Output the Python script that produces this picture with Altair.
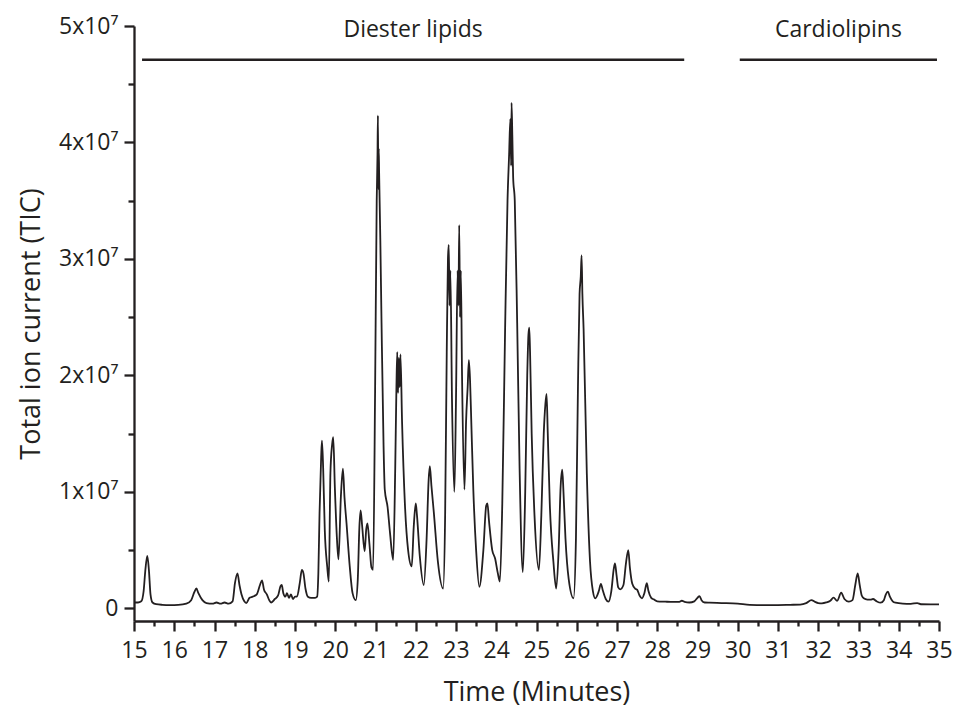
import altair as alt
import pandas as pd

# Retention time (minutes) of each sampled point of the chromatogram
time_min = [
    15.00, 15.10, 15.18, 15.24, 15.28, 15.33, 15.37, 15.41, 15.46, 15.55,
    15.70, 15.90, 16.10, 16.30, 16.42, 16.50, 16.55, 16.60, 16.70, 16.80,
    16.95, 17.05, 17.15, 17.25, 17.35, 17.45, 17.51, 17.57, 17.62, 17.67,
    17.74, 17.79, 17.87, 17.95, 18.05, 18.13, 18.18, 18.23, 18.30, 18.36,
    18.41, 18.50, 18.58, 18.64, 18.67, 18.71, 18.76, 18.80, 18.85, 18.90,
    18.95, 19.00, 19.05, 19.12, 19.17, 19.21, 19.26, 19.32, 19.40, 19.50,
    19.55, 19.58, 19.61, 19.65, 19.67, 19.70, 19.74, 19.80, 19.84, 19.88,
    19.92, 19.95, 19.99, 20.04, 20.08, 20.14, 20.19, 20.23, 20.28, 20.36,
    20.43, 20.51, 20.56, 20.60, 20.63, 20.67, 20.73, 20.77, 20.80, 20.85,
    20.90, 20.94, 20.99, 21.03, 21.05, 21.06, 21.07, 21.08, 21.09, 21.12,
    21.15, 21.20, 21.23, 21.30, 21.36, 21.44, 21.49, 21.52, 21.54, 21.56,
    21.58, 21.60, 21.62, 21.66, 21.73, 21.81, 21.90, 21.95, 22.00, 22.03,
    22.10, 22.20, 22.27, 22.32, 22.35, 22.39, 22.45, 22.55, 22.68, 22.73,
    22.77, 22.80, 22.82, 22.84, 22.86, 22.90, 22.96, 23.00, 23.04, 23.06,
    23.08, 23.10, 23.12, 23.15, 23.21, 23.25, 23.29, 23.32, 23.35, 23.38,
    23.43, 23.50, 23.58, 23.68, 23.75, 23.78, 23.82, 23.90, 23.97, 24.04,
    24.09, 24.15, 24.22, 24.28, 24.32, 24.35, 24.37, 24.38, 24.40, 24.42,
    24.46, 24.52, 24.58, 24.66, 24.72, 24.77, 24.80, 24.82, 24.84, 24.88,
    24.95, 25.06, 25.12, 25.18, 25.22, 25.25, 25.28, 25.33, 25.42, 25.49,
    25.55, 25.60, 25.64, 25.67, 25.72, 25.80, 25.92, 25.98, 26.03, 26.07,
    26.10, 26.12, 26.14, 26.17, 26.25, 26.33, 26.40, 26.46, 26.55, 26.60,
    26.65, 26.72, 26.79, 26.86, 26.92, 26.95, 26.99, 27.03, 27.08, 27.16,
    27.22, 27.28, 27.32, 27.38, 27.45, 27.50, 27.56, 27.62, 27.68, 27.74,
    27.78, 27.85, 27.91, 28.00, 28.20, 28.40, 28.55, 28.61, 28.68, 28.80,
    28.92, 29.00, 29.05, 29.10, 29.18, 29.30, 29.60, 30.00, 30.30, 30.70,
    31.00, 31.30, 31.55, 31.70, 31.83, 31.92, 32.00, 32.09, 32.20, 32.30,
    32.38, 32.47, 32.57, 32.65, 32.76, 32.85, 32.92, 32.98, 33.03, 33.08,
    33.13, 33.22, 33.30, 33.36, 33.45, 33.55, 33.63, 33.68, 33.73, 33.78,
    33.85, 33.92, 34.10, 34.30, 34.46, 34.55, 34.80, 35.00,
]

# Total ion current at each time point, in units of 10^7 counts
tic_e7 = [
    0.050, 0.050, 0.060, 0.150, 0.320, 0.450, 0.330, 0.120, 0.050, 0.035,
    0.030, 0.028, 0.030, 0.040, 0.070, 0.140, 0.170, 0.130, 0.070, 0.045,
    0.040, 0.050, 0.040, 0.050, 0.040, 0.060, 0.220, 0.300, 0.200, 0.120,
    0.060, 0.045, 0.090, 0.100, 0.120, 0.200, 0.240, 0.160, 0.120, 0.070,
    0.050, 0.080, 0.110, 0.190, 0.200, 0.130, 0.100, 0.130, 0.090, 0.120,
    0.080, 0.100, 0.100, 0.220, 0.330, 0.300, 0.170, 0.100, 0.090, 0.090,
    0.100, 0.300, 0.820, 1.300, 1.440, 1.200, 0.670, 0.360, 0.230, 1.160,
    1.400, 1.470, 1.040, 0.610, 0.420, 0.960, 1.200, 0.950, 0.730, 0.360,
    0.130, 0.070, 0.250, 0.700, 0.840, 0.700, 0.490, 0.680, 0.730, 0.550,
    0.350, 0.330, 1.870, 3.500, 3.900, 4.230, 3.600, 3.950, 3.740, 3.160,
    2.450, 1.400, 1.020, 0.870, 0.650, 0.415, 1.200, 1.900, 2.200, 1.850,
    2.150, 1.900, 2.180, 1.600, 0.900, 0.500, 0.360, 0.700, 0.900, 0.800,
    0.450, 0.200, 0.600, 1.100, 1.220, 1.050, 0.820, 0.400, 0.170, 0.800,
    2.200, 3.000, 3.120, 2.600, 2.900, 1.800, 1.000, 1.800, 2.900, 2.600,
    3.290, 2.500, 2.900, 2.000, 1.020, 1.600, 1.900, 2.130, 1.950, 1.600,
    1.020, 0.500, 0.185, 0.500, 0.880, 0.900, 0.750, 0.500, 0.430, 0.300,
    0.230, 0.900, 2.400, 3.500, 3.900, 4.200, 3.800, 4.340, 4.050, 3.700,
    3.500, 2.450, 1.200, 0.310, 1.000, 2.000, 2.350, 2.410, 2.200, 1.500,
    0.800, 0.330, 0.800, 1.500, 1.750, 1.840, 1.500, 0.900, 0.400, 0.170,
    0.500, 1.050, 1.190, 1.000, 0.600, 0.250, 0.086, 0.600, 1.900, 2.700,
    2.850, 3.030, 2.700, 2.400, 1.160, 0.400, 0.150, 0.086, 0.150, 0.210,
    0.150, 0.080, 0.057, 0.150, 0.340, 0.386, 0.280, 0.180, 0.163, 0.200,
    0.380, 0.500, 0.350, 0.210, 0.170, 0.160, 0.110, 0.086, 0.130, 0.215,
    0.150, 0.090, 0.077, 0.060, 0.057, 0.055, 0.055, 0.065, 0.055, 0.050,
    0.060, 0.090, 0.105, 0.070, 0.050, 0.048, 0.045, 0.040, 0.030, 0.028,
    0.028, 0.030, 0.032, 0.045, 0.071, 0.055, 0.045, 0.043, 0.050, 0.065,
    0.091, 0.065, 0.134, 0.080, 0.057, 0.070, 0.200, 0.300, 0.200, 0.110,
    0.086, 0.075, 0.075, 0.080, 0.060, 0.048, 0.070, 0.120, 0.143, 0.100,
    0.060, 0.048, 0.040, 0.038, 0.045, 0.035, 0.034, 0.034,
]

# Elution windows of the lipid classes
region_names = ["Diester lipids", "Cardiolipins"]
region_start = [15.2, 30.05]
region_end = [28.67, 34.95]

# Axis ticks: whole minutes labelled, half minutes as minor ticks
x_ticks = [15 + 0.5 * i for i in range(41)]
y_ticks = [0, 0.5e7, 1e7, 1.5e7, 2e7, 2.5e7, 3e7, 3.5e7, 4e7, 4.5e7, 5e7]

INK = "#231f20"
FONT = "Open Sans, Noto Sans, DejaVu Sans"

df = pd.DataFrame({"time": time_min, "tic": [v * 1e7 for v in tic_e7]})
regions = pd.DataFrame({"name": region_names, "start": region_start, "end": region_end})

x_scale = alt.Scale(domain=[15, 35], nice=False, zero=False)
y_scale = alt.Scale(domain=[-1.09e6, 5e7], nice=False, zero=False)

x_axis = alt.Axis(
    values=x_ticks,
    labelExpr="datum.value % 1 === 0 ? '' + datum.value : ''",
    tickSize={"condition": {"test": "datum.value % 1 !== 0", "value": 5}, "value": 10},
    title="Time (Minutes)",
    titleX=402.5,
    titleY=79,
    titleBaseline="alphabetic",
    labelPadding=8,
    labelFlush=False,
    labelOverlap=False,
    grid=False,
)

y_axis = alt.Axis(
    values=y_ticks,
    labelExpr="datum.value === 0 ? '0' : (datum.value % 1e7 === 0 ? (datum.value / 1e7) + 'x10\u2077' : '')",
    tickSize={"condition": {"test": "datum.value % 1e7 !== 0", "value": 6}, "value": 10},
    title="Total ion current (TIC)",
    titleX=-95,
    titleY=297.5,
    titleAngle=-90,
    titleBaseline="alphabetic",
    labelPadding=6,
    labelFlush=False,
    labelOverlap=False,
    grid=False,
)

trace = alt.Chart(df).mark_line(
    color=INK, strokeWidth=1.8, interpolate="monotone"
).encode(
    x=alt.X("time:Q", scale=x_scale, axis=x_axis),
    y=alt.Y("tic:Q", scale=y_scale, axis=y_axis),
)

bars = alt.Chart(regions).mark_rule(color=INK, strokeWidth=2.5).encode(
    x=alt.X("start:Q", scale=x_scale, axis=x_axis),
    x2="end:Q",
    y=alt.Y(datum=4.71e7, scale=y_scale, axis=y_axis),
)

labels = alt.Chart(regions).transform_calculate(
    mid="(datum.start + datum.end) / 2"
).mark_text(
    font=FONT, fontSize=23, color=INK, align="center", baseline="alphabetic"
).encode(
    x=alt.X("mid:Q", scale=x_scale, axis=x_axis),
    y=alt.Y(datum=4.906e7, scale=y_scale, axis=y_axis),
    text="name:N",
)

chart = alt.layer(trace, bars, labels).properties(
    width=805,
    height=595,
    padding={"left": 134, "top": 26, "right": 19, "bottom": 88},
    autosize=alt.AutoSizeParams(type="none"),
    background="white",
).configure_view(
    stroke=None
).configure_axis(
    domainColor=INK,
    domainWidth=2.3,
    tickColor=INK,
    tickWidth=2.3,
    labelColor=INK,
    labelFont=FONT,
    labelFontSize=23,
    titleColor=INK,
    titleFont=FONT,
    titleFontSize=27,
    titleFontWeight="normal",
)

chart.save("out.html", embed_options={"renderer": "svg", "actions": False})
